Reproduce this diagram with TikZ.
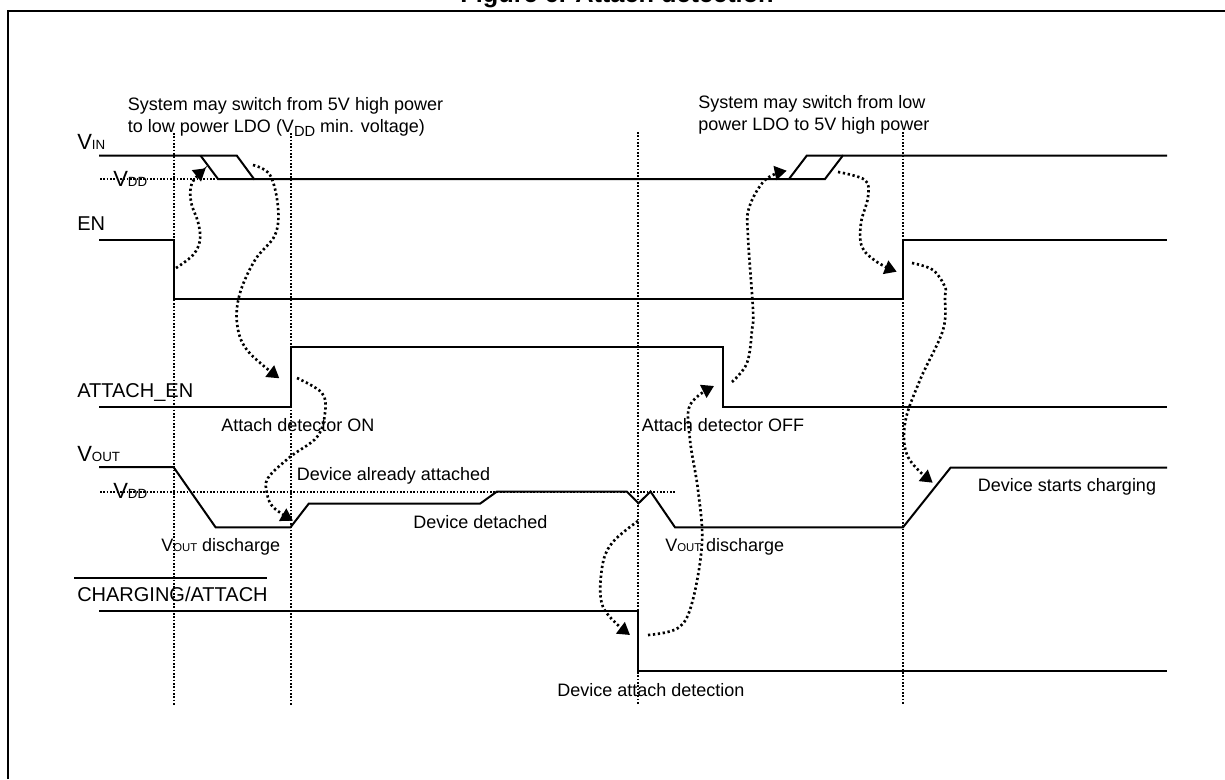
\documentclass[tikz,border=0pt]{standalone}
\usepackage{fontspec}
\setmainfont{Liberation Sans}
\usepackage{tikz}
\usetikzlibrary{arrows.meta}

% V with its small index, as printed on the signal names and notes
\newcommand{\sigV}[1]{{\fontsize{16.5}{17}\selectfont V}{\fontsize{10}{10}\selectfont #1}}
\newcommand{\noteV}[1]{V{\fontsize{8.5}{10}\selectfont #1}}

\begin{document}
\begin{tikzpicture}[
  x=0.75pt, y=-0.75pt,
  signal/.style={line width=1.5pt, line join=miter},
  guide/.style={line width=1.5pt, dash pattern=on 1.25pt off 1.25pt},
  cause/.style={line width=2pt, dash pattern=on 1.7pt off 2pt, -{Triangle[length=9pt,width=10.5pt]}},
  signame/.style={anchor=base west, inner sep=0pt, font=\fontsize{15}{15}\selectfont},
  notetext/.style={anchor=base west, inner sep=0pt, font=\fontsize{13.5}{13.5}\selectfont}],
    \useasboundingbox (0,0) rectangle (1225,779);
    % Frame, open at the page edge, and the cut-off title
    \draw[line width=1.5pt] (8,779) -- (8,11) -- (1225,11);
    \node[anchor=base, inner sep=0pt, font=\fontsize{19}{19}\selectfont\bfseries] (title) at (617,2) {Figure 6. Attach detection};

    % Time marks
    \foreach \x/\ytop in {173.5/133, 290.5/133, 638/132, 903/132}
      \draw[guide] (\x,\ytop) -- (\x,705);
    % VDD levels
    \draw[guide] (100,179) -- (218,179);
    \draw[guide] (100,491.5) -- (675,491.5);

    % Signal names
    \node[signame] (vin) at (77,149.3) {\sigV{IN}};
    \node[signame] (vdda) at (113,186) {\sigV{DD}};
    \node[signame] (en) at (77,230) {EN};
    \node[signame] (attachen) at (77,397.7) {ATTACH\_EN};
    \node[signame] (vout) at (77,461.7) {\sigV{OUT}};
    \node[signame] (vddb) at (113,498.3) {\sigV{DD}};
    \node[signame] (charging) at (77,601.7) {CHARGING/ATTACH};
    \draw[signal] (74,577.7) -- (266.5,577.7);

    % Waveforms
    \draw[signal] (99,155.5) -- (236.7,155.5) -- (254,179) -- (825,179) -- (842.7,155.7) -- (1167,155.7);
    \draw[signal] (200.5,155.5) -- (218,179) -- (254,179);
    \draw[signal] (789,179) -- (806.7,155.7) -- (842.7,155.7);
    \draw[signal] (99,239.7) -- (173.5,239.7) -- (173.5,299.4) -- (903,299.4) -- (903,239.7) -- (1167,239.7);
    \draw[signal] (99,407.3) -- (290.5,407.3) -- (290.5,347.3) -- (722.7,347.3) -- (722.7,407.3) -- (1167,407.3);
    \draw[signal] (99,467) -- (173.5,467) -- (215.6,527.3) -- (290.5,527.3) -- (308.7,503.7) -- (480,503.7) -- (497,491.5) -- (626.7,491.5) -- (638.5,503.3) -- (650.5,491.5) -- (675,527.3) -- (903,527.3) -- (950.7,467.5) -- (1167,467.5);
    \draw[signal] (99,611) -- (638,611) -- (638,671) -- (1167,671);

    % Notes
    \node[notetext] (noteleft) at (127.7,110.7) {System may switch from 5V high power};
    \node[notetext] (noteleftb) at (127.7,132.7) {to low power LDO (V\raisebox{-3pt}{\fontsize{11}{11}\selectfont DD} min. voltage)};
    \node[notetext] (noteright) at (698,108) {System may switch from low};
    \node[notetext] (noterightb) at (698,130) {power LDO to 5V high power};
    \node[notetext] (detecton) at (221,431.7) {Attach detector ON};
    \node[notetext] (detectoff) at (641.7,431.7) {Attach detector OFF};
    \node[notetext] (already) at (296.7,480) {Device already attached};
    \node[notetext] (detached) at (413,528) {Device detached};
    \node[notetext] (dischargea) at (161,551.7) {\noteV{OUT} discharge};
    \node[notetext] (dischargeb) at (665,551.7) {\noteV{OUT} discharge};
    \node[notetext] (detection) at (557,696) {Device attach detection};
    \node[notetext] (starts) at (977.7,491.7) {Device starts charging};

    % Ends of the cause and effect arrows
    \coordinate (enfall) at (176,268);
    \coordinate (vinlow) at (205.7,168.3);
    \coordinate (vinfall) at (253,165);
    \coordinate (attachrise) at (279.3,378.3);
    \coordinate (attachhigh) at (297,378);
    \coordinate (outrise) at (293,520.7);
    \coordinate (outdip) at (638,521);
    \coordinate (chargefall) at (630,635);
    \coordinate (chargelow) at (648,635);
    \coordinate (attachfall) at (714,386);
    \coordinate (attachlow) at (732,382);
    \coordinate (vinrise) at (786.7,170.7);
    \coordinate (vinhigh) at (838,172);
    \coordinate (enrise) at (896.7,271.7);
    \coordinate (enhigh) at (912,263);
    \coordinate (outramp) at (932.7,482.7);

    \draw[cause] plot[smooth, tension=0.6] coordinates {(enfall) (193,255) (200,240) (198,222) (191,202) (192,183) (vinlow)};
    \draw[cause] plot[smooth, tension=0.6] coordinates {(vinfall) (270,175) (278,207) (275,235) (255,260) (240,293) (237,323) (247,350) (attachrise)};
    \draw[cause] plot[smooth, tension=0.6] coordinates {(attachhigh) (322,393) (325,413) (317,437) (290,457) (268,478) (267,493) (273,507) (outrise)};
    \draw[cause] plot[smooth, tension=0.6] coordinates {(outdip) (612,543) (602,568) (603,607) (chargefall)};
    \draw[cause] plot[smooth, tension=0.6] coordinates {(chargelow) (678,628) (692,603) (702,543) (698,490) (690,440) (690,405) (attachfall)};
    \draw[cause] plot[smooth, tension=0.6] coordinates {(attachlow) (747,363) (752,330) (753,310) (748,237) (749,208) (765,180) (vinrise)};
    \draw[cause] plot[smooth, tension=0.6] coordinates {(vinhigh) (865,180) (868,197) (861,223) (862,247) (877,262) (enrise)};
    \draw[cause] plot[smooth, tension=0.6] coordinates {(enhigh) (933,270) (945,287) (945,297) (943,330) (920,380) (905,423) (908,457) (outramp)};
\end{tikzpicture}
\end{document}
